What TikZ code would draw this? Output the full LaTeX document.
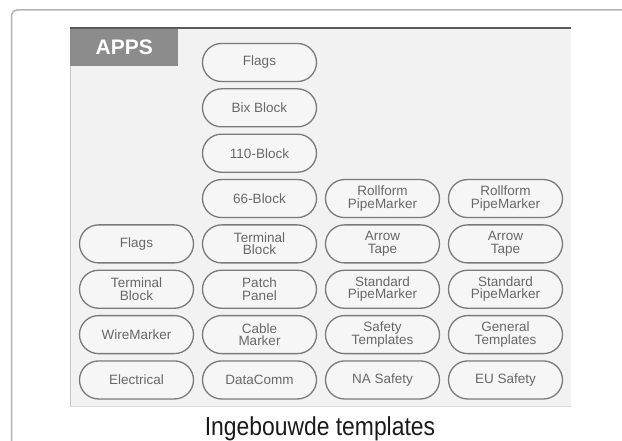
\documentclass[tikz,border=0pt]{standalone}
\usepackage{fontspec}
\setmainfont{Liberation Sans}
\usepackage{graphicx}
\usetikzlibrary{shapes.misc}
\definecolor{framegray}{HTML}{B4B4B4}
\definecolor{screenbg}{HTML}{F2F2F2}
\definecolor{topband}{HTML}{5A5A5A}
\definecolor{appsgray}{HTML}{8C8C8C}
\definecolor{btnline}{HTML}{7A7A7A}
\definecolor{btnfill}{HTML}{F6F6F6}
\definecolor{btntext}{HTML}{686868}
\definecolor{captext}{HTML}{1A1A1A}
\tikzset{
  btn/.style={rounded rectangle, draw=btnline, line width=1.3pt, fill=btnfill,
    minimum width=114pt, minimum height=38pt, inner sep=0pt,
    text=btntext, align=center,
    font=\fontsize{13.5}{12.5}\selectfont},
}
\begin{document}
\begin{tikzpicture}[x=1pt,y=-1pt]
\useasboundingbox (0,0) rectangle (622,441);
\fill[white] (0,0) rectangle (622,441);
% outer frame (only top and left visible)
\draw[framegray, line width=1.5pt, rounded corners=6pt] (11.5,445) -- (11.5,10) -- (626,10);
% screenshot background
\fill[screenbg] (70,27) rectangle (571,406);
\draw[gray!30, line width=0.8pt] (70,406) -- (571,406);
\draw[gray!45, line width=0.8pt] (70.4,27) -- (70.4,406);
\fill[topband] (70,27) rectangle (571,29.5);
% APPS tab
\node[fill=appsgray, minimum width=108pt, minimum height=37pt, inner sep=0pt,
  anchor=north west, text=white, font=\fontsize{21}{21}\selectfont\bfseries]
  (apps) at (70,29) {APPS};
% buttons
\def\ca{136.5} \def\cb{259.5} \def\cc{382.5} \def\cd{505.5}
\node[btn] (b21) at (\cb,62.5) {Flags};
\node[btn] (b22) at (\cb,107.85) {Bix Block};
\node[btn] (b23) at (\cb,153.2) {110-Block};
\node[btn] (b24) at (\cb,198.55) {66-Block};
\node[btn] (b34) at (\cc,198.55) {Rollform\\PipeMarker};
\node[btn] (b44) at (\cd,198.55) {Rollform\\PipeMarker};
\node[btn] (b15) at (\ca,243.9) {Flags};
\node[btn] (b25) at (\cb,243.9) {Terminal\\Block};
\node[btn] (b35) at (\cc,243.9) {Arrow\\Tape};
\node[btn] (b45) at (\cd,243.9) {Arrow\\Tape};
\node[btn] (b16) at (\ca,289.25) {Terminal\\Block};
\node[btn] (b26) at (\cb,289.25) {Patch\\Panel};
\node[btn] (b36) at (\cc,289.25) {Standard\\PipeMarker};
\node[btn] (b46) at (\cd,289.25) {Standard\\PipeMarker};
\node[btn] (b17) at (\ca,334.6) {WireMarker};
\node[btn] (b27) at (\cb,334.6) {Cable\\Marker};
\node[btn] (b37) at (\cc,334.6) {Safety\\Templates};
\node[btn] (b47) at (\cd,334.6) {General\\Templates};
\node[btn] (b18) at (\ca,379.95) {Electrical};
\node[btn] (b28) at (\cb,379.95) {DataComm};
\node[btn] (b38) at (\cc,379.95) {NA Safety};
\node[btn] (b48) at (\cd,379.95) {EU Safety};
% caption
\node[anchor=base, inner sep=0pt, text=captext] (cap) at (320,435)
  {\scalebox{0.88}[1]{\fontsize{26}{26}\selectfont Ingebouwde templates}};
\end{tikzpicture}
\end{document}
